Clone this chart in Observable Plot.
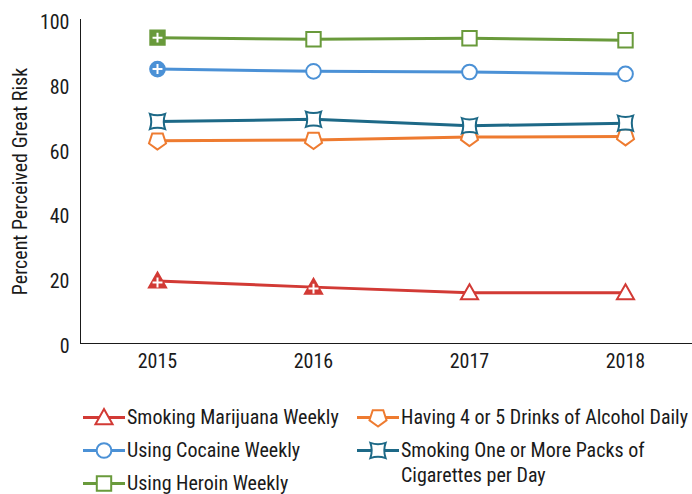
<!DOCTYPE html>
<html>
<head>
<meta charset="utf-8">
<script src="https://cdn.jsdelivr.net/npm/d3@7"></script>
<script src="https://cdn.jsdelivr.net/npm/@observablehq/plot@0.6"></script>
<style>
  html, body { margin: 0; padding: 0; background: #fff; }
  body { width: 692px; height: 494px; overflow: hidden; font-family: "Roboto Condensed", "Roboto", sans-serif; font-stretch: condensed; color: #1a1a1a; }
  #legend { display: flex; padding-left: 83px; padding-top: 25px; }
  .col { display: flex; flex-direction: column; }
  .col1 { width: 274px; }
  .item { display: flex; align-items: flex-start; font-size: 20px; line-height: 25px; margin-bottom: 8px; white-space: nowrap; }
  .item svg { flex: none; margin-right: 2px; }
</style>
</head>
<body>
<div id="chart"></div>
<div id="legend"></div>
<script>
// ---- data ----
const years = [2015, 2016, 2017, 2018];
const seriesNames = [
  "Smoking Marijuana Weekly",
  "Having 4 or 5 Drinks of Alcohol Daily",
  "Using Cocaine Weekly",
  "Smoking One or More Packs of Cigarettes per Day",
  "Using Heroin Weekly"
];
const marijuana = [19.3, 17.4, 15.7, 15.7];
const alcohol = [62.6, 62.8, 63.7, 63.9];
const cocaine = [84.7, 84.0, 83.8, 83.2];
const cigarettes = [68.5, 69.2, 67.2, 68.0];
const heroin = [94.4, 93.9, 94.2, 93.6];
// significantly different from 2018 (filled markers with "+")
const marijuanaSig = [true, true, false, false];
const alcoholSig = [false, false, false, false];
const cocaineSig = [true, false, false, false];
const cigarettesSig = [false, false, false, false];
const heroinSig = [true, false, false, false];
const yTicks = [0, 20, 40, 60, 80, 100];
const colors = ["#d23a35", "#ee7b30", "#4b91d6", "#1d6987", "#699a3b"];

// ---- symbols ----
function mk(fn) { return { draw(ctx, size) { fn(ctx, Math.sqrt(size / Math.PI)); } }; }
const symTri = mk((c, r) => { c.moveTo(0, -1.05 * r); c.lineTo(1.07 * r, 0.83 * r); c.lineTo(-1.07 * r, 0.83 * r); c.closePath(); });
const symPent = mk((c, r) => {
  const R = 1.12 * r;
  for (let k = 0; k < 5; k++) {
    const a = Math.PI / 2 + 2 * Math.PI * k / 5;
    const x = R * Math.cos(a), y = R * Math.sin(a);
    if (k === 0) c.moveTo(x, y); else c.lineTo(x, y);
  }
  c.closePath();
});
const symCirc = mk((c, r) => { const R = 0.92 * r; c.moveTo(R, 0); c.arc(0, 0, R, 0, 2 * Math.PI); });
const symConc = mk((c, r) => {
  const h = 0.95 * r, p = 0.62 * r;
  c.moveTo(-h, -h);
  c.quadraticCurveTo(0, -p, h, -h);
  c.quadraticCurveTo(p, 0, h, h);
  c.quadraticCurveTo(0, p, -h, h);
  c.quadraticCurveTo(-p, 0, -h, -h);
  c.closePath();
});
const symSq = mk((c, r) => { const h = 0.9 * r; c.moveTo(-h, -h); c.lineTo(h, -h); c.lineTo(h, h); c.lineTo(-h, h); c.closePath(); });
const symCross = mk((c, r) => { const h = 0.62 * r; c.moveTo(-h, 0); c.lineTo(h, 0); c.moveTo(0, -h); c.lineTo(0, h); });
const symbols = [symTri, symPent, symCirc, symConc, symSq];

const values = [marijuana, alcohol, cocaine, cigarettes, heroin];
const sigs = [marijuanaSig, alcoholSig, cocaineSig, cigarettesSig, heroinSig];
const rows = seriesNames.map((name, s) => years.map((year, i) => ({ series: s, name, year, value: values[s][i], sig: sigs[s][i] })));

// draw order: marijuana, alcohol, cocaine, cigarettes, heroin
const seriesMarks = [];
for (let s = 0; s < seriesNames.length; s++) {
  const data = rows[s];
  seriesMarks.push(
    Plot.line(data, { x: "year", y: "value", stroke: colors[s], strokeWidth: 3 }),
    Plot.dot(data.filter(d => !d.sig), { x: "year", y: "value", r: 8, symbol: symbols[s], stroke: colors[s], fill: "white", strokeWidth: 2 }),
    Plot.dot(data.filter(d => d.sig), { x: "year", y: "value", r: 8, symbol: symbols[s], stroke: colors[s], fill: colors[s], strokeWidth: 2 }),
    Plot.dot(data.filter(d => d.sig), { x: "year", y: "value", r: 8, symbol: symCross, stroke: "white", fill: "none", strokeWidth: 2, dy: s === 0 ? 1.5 : 0 })
  );
}

const chart = Plot.plot({
  width: 692,
  height: 380,
  marginLeft: 80,
  marginRight: 0,
  marginTop: 19,
  marginBottom: 37,
  style: { fontFamily: "'Roboto Condensed', Roboto, sans-serif", fontSize: "20px", color: "#1a1a1a", background: "white" },
  x: { type: "point", domain: years, range: [79, 703] },
  y: { domain: [0, 100] },
  marks: [
    Plot.frame({ anchor: "left", stroke: "#1a1a1a" }),
    Plot.frame({ anchor: "bottom", stroke: "#1a1a1a" }),
    Plot.axisX({ tickSize: 0, tickPadding: 10, label: null, tickFormat: d => String(d) }),
    Plot.axisY({ ticks: yTicks, tickSize: 0, tickPadding: 11, dy: 3, label: "Percent Perceived Great Risk", labelAnchor: "center", labelOffset: 68, labelArrow: "none" }),
    ...seriesMarks
  ]
});
document.getElementById("chart").appendChild(chart);

// ---- legend ----
function swatch(s) {
  const p = d3.path();
  symbols[s].draw(p, Math.PI * 64);
  const ns = "http://www.w3.org/2000/svg";
  const svg = document.createElementNS(ns, "svg");
  svg.setAttribute("width", 42); svg.setAttribute("height", 25);
  svg.innerHTML = `<line x1="0" x2="42" y1="12.5" y2="12.5" stroke="${colors[s]}" stroke-width="3"/>` +
    `<path transform="translate(21,12.5)" d="${p.toString()}" fill="white" stroke="${colors[s]}" stroke-width="2"/>`;
  return svg;
}
const legendCols = [[0, 2, 4], [1, 3]];
const legendLabels = seriesNames.slice();
legendLabels[3] = "Smoking One or More Packs of<br>Cigarettes per Day";
const legend = document.getElementById("legend");
legendCols.forEach((col, ci) => {
  const div = document.createElement("div");
  div.className = "col col" + (ci + 1);
  col.forEach(s => {
    const item = document.createElement("div");
    item.className = "item";
    item.appendChild(swatch(s));
    const span = document.createElement("span");
    span.innerHTML = legendLabels[s];
    item.appendChild(span);
    div.appendChild(item);
  });
  legend.appendChild(div);
});
</script>
</body>
</html>
